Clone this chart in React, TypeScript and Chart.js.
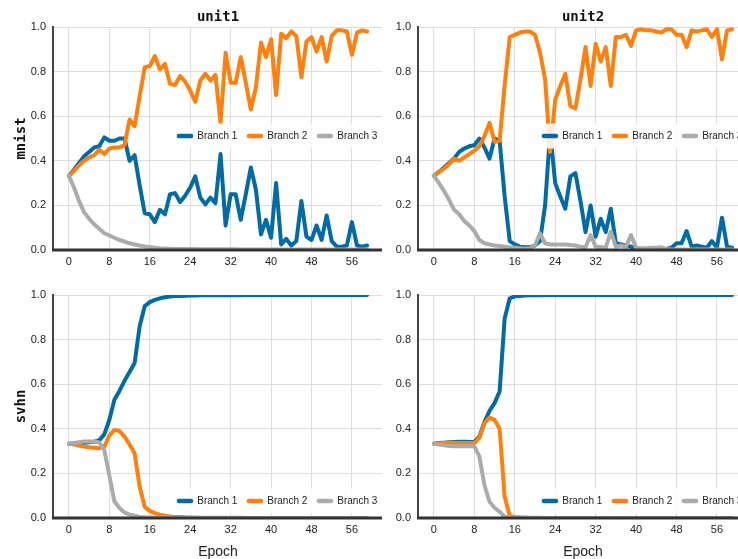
import React, { useEffect, useRef } from "react";
import { Chart, registerables } from "chart.js";

Chart.register(...registerables);

// ---------- data ----------
const epochs = [
  0, 1, 2, 3, 4, 5, 6, 7, 8, 9, 10, 11, 12, 13, 14, 15, 16, 17, 18, 19,
  20, 21, 22, 23, 24, 25, 26, 27, 28, 29, 30, 31, 32, 33, 34, 35, 36, 37, 38, 39,
  40, 41, 42, 43, 44, 45, 46, 47, 48, 49, 50, 51, 52, 53, 54, 55, 56, 57, 58, 59,
];
const xTickValues = [0, 8, 16, 24, 32, 40, 48, 56];
const yTickValues = [0, 0.2, 0.4, 0.6, 0.8, 1.0];
const seriesNames = ["Branch 1", "Branch 2", "Branch 3"];
const seriesColors = ["#006BA4", "#FF800E", "#ABABAB"];

// mnist / unit1
const mnistUnit1B1 = [
  0.333, 0.36, 0.39, 0.42, 0.44, 0.46, 0.465, 0.505, 0.49, 0.49,
  0.5, 0.5, 0.4, 0.425, 0.29, 0.165, 0.16, 0.125, 0.18, 0.16,
  0.25, 0.255, 0.215, 0.243, 0.28, 0.33, 0.235, 0.205, 0.235, 0.21,
  0.43, 0.11, 0.25, 0.25, 0.135, 0.25, 0.37, 0.27, 0.07, 0.135,
  0.055, 0.3, 0.025, 0.05, 0.02, 0.04, 0.22, 0.06, 0.045, 0.11,
  0.045, 0.155, 0.04, 0.015, 0.015, 0.02, 0.125, 0.02, 0.015, 0.02,
];
const mnistUnit1B2 = [
  0.333, 0.355, 0.38, 0.4, 0.415, 0.425, 0.45, 0.43, 0.455, 0.46,
  0.46, 0.47, 0.585, 0.555, 0.69, 0.82, 0.825, 0.87, 0.81, 0.835,
  0.745, 0.74, 0.78, 0.755, 0.715, 0.665, 0.76, 0.79, 0.76, 0.785,
  0.57, 0.885, 0.75, 0.75, 0.865, 0.75, 0.63, 0.73, 0.93, 0.865,
  0.945, 0.695, 0.97, 0.95, 0.98, 0.96, 0.775, 0.935, 0.955, 0.89,
  0.955, 0.845, 0.96, 0.985, 0.985, 0.98, 0.875, 0.975, 0.985, 0.98,
];
const mnistUnit1B3 = [
  0.333, 0.28, 0.22, 0.17, 0.14, 0.115, 0.095, 0.075, 0.065, 0.055,
  0.045, 0.038, 0.03, 0.025, 0.02, 0.016, 0.013, 0.01, 0.008, 0.007,
  0.006, 0.005, 0.005, 0.004, 0.004, 0.004, 0.003, 0.003, 0.003, 0.003,
  0.003, 0.003, 0.003, 0.003, 0.002, 0.002, 0.002, 0.002, 0.002, 0.002,
  0.002, 0.002, 0.002, 0.002, 0.002, 0.002, 0.002, 0.002, 0.002, 0.002,
  0.002, 0.002, 0.002, 0.002, 0.002, 0.002, 0.002, 0.002, 0.002, 0.002,
];

// mnist / unit2
const mnistUnit2B1 = [
  0.333, 0.35, 0.37, 0.39, 0.41, 0.44, 0.455, 0.465, 0.47, 0.5,
  0.46, 0.41, 0.5, 0.49, 0.24, 0.04, 0.025, 0.015, 0.012, 0.012,
  0.02, 0.04, 0.2, 0.53, 0.3, 0.24, 0.185, 0.33, 0.345, 0.22,
  0.08, 0.2, 0.06, 0.14, 0.08, 0.185, 0.03, 0.025, 0.02, 0.015,
  0.005, 0.004, 0.004, 0.005, 0.005, 0.005, 0.005, 0.01, 0.03, 0.03,
  0.085, 0.015, 0.02, 0.015, 0.01, 0.04, 0.01, 0.145, 0.015, 0.01,
];
const mnistUnit2B2 = [
  0.333, 0.35, 0.365, 0.385, 0.41, 0.4, 0.415, 0.43, 0.445, 0.465,
  0.51, 0.57, 0.485, 0.49, 0.74, 0.955, 0.965, 0.975, 0.98, 0.98,
  0.965, 0.885, 0.765, 0.44, 0.675, 0.735, 0.79, 0.645, 0.635, 0.765,
  0.91, 0.735, 0.925, 0.845, 0.91, 0.735, 0.955, 0.955, 0.965, 0.915,
  0.985, 0.99, 0.985, 0.985, 0.98, 0.975, 0.99, 0.99, 0.965, 0.965,
  0.91, 0.985, 0.98, 0.985, 0.99, 0.955, 0.99, 0.855, 0.985, 0.99,
];
const mnistUnit2B3 = [
  0.333, 0.3, 0.265, 0.225, 0.18, 0.16, 0.13, 0.11, 0.085, 0.045,
  0.03, 0.025, 0.02, 0.018, 0.015, 0.012, 0.01, 0.008, 0.006, 0.008,
  0.02, 0.075, 0.03, 0.025, 0.025, 0.025, 0.025, 0.022, 0.02, 0.015,
  0.012, 0.067, 0.015, 0.013, 0.01, 0.082, 0.015, 0.02, 0.015, 0.067,
  0.01, 0.008, 0.008, 0.01, 0.01, 0.012, 0.005, 0.002, 0.002, 0.002,
  0.002, 0.002, 0.002, 0.002, 0.002, 0.002, 0.002, 0.002, 0.002, 0.002,
];

// svhn / unit1
const svhnUnit1B1 = [
  0.333, 0.334, 0.335, 0.337, 0.34, 0.342, 0.348, 0.375, 0.44, 0.53,
  0.57, 0.615, 0.655, 0.695, 0.86, 0.95, 0.968, 0.978, 0.985, 0.99,
  0.993, 0.995, 0.996, 0.997, 0.998, 0.998, 0.999, 0.999, 0.999, 0.999,
  0.999, 0.999, 0.999, 0.999, 0.999, 1.0, 1.0, 1.0, 1.0, 1.0,
  1.0, 1.0, 1.0, 1.0, 1.0, 1.0, 1.0, 1.0, 1.0, 1.0,
  1.0, 1.0, 1.0, 1.0, 1.0, 1.0, 1.0, 1.0, 1.0, 1.0,
];
const svhnUnit1B2 = [
  0.333, 0.33, 0.325, 0.32, 0.317, 0.315, 0.313, 0.32, 0.37, 0.395,
  0.39, 0.365, 0.33, 0.29, 0.14, 0.05, 0.032, 0.022, 0.015, 0.01,
  0.007, 0.005, 0.004, 0.003, 0.002, 0.002, 0.001, 0.001, 0.001, 0.001,
  0.001, 0.001, 0.001, 0.001, 0.001, 0.0, 0.0, 0.0, 0.0, 0.0,
  0.0, 0.0, 0.0, 0.0, 0.0, 0.0, 0.0, 0.0, 0.0, 0.0,
  0.0, 0.0, 0.0, 0.0, 0.0, 0.0, 0.0, 0.0, 0.0, 0.0,
];
const svhnUnit1B3 = [
  0.333, 0.336, 0.34, 0.343, 0.343, 0.343, 0.339, 0.305, 0.19, 0.075,
  0.045, 0.025, 0.015, 0.01, 0.005, 0.003, 0.002, 0.002, 0.001, 0.001,
  0.001, 0.0, 0.0, 0.0, 0.0, 0.0, 0.0, 0.0, 0.0, 0.0,
  0.0, 0.0, 0.0, 0.0, 0.0, 0.0, 0.0, 0.0, 0.0, 0.0,
  0.0, 0.0, 0.0, 0.0, 0.0, 0.0, 0.0, 0.0, 0.0, 0.0,
  0.0, 0.0, 0.0, 0.0, 0.0, 0.0, 0.0, 0.0, 0.0, 0.0,
];

// svhn / unit2
const svhnUnit2B1 = [
  0.333, 0.336, 0.338, 0.34, 0.341, 0.342, 0.342, 0.341, 0.342, 0.365,
  0.43, 0.48, 0.515, 0.567, 0.895, 0.985, 0.994, 0.996, 0.998, 0.999,
  0.999, 0.999, 1.0, 1.0, 1.0, 1.0, 1.0, 1.0, 1.0, 1.0,
  1.0, 1.0, 1.0, 1.0, 1.0, 1.0, 1.0, 1.0, 1.0, 1.0,
  1.0, 1.0, 1.0, 1.0, 1.0, 1.0, 1.0, 1.0, 1.0, 1.0,
  1.0, 1.0, 1.0, 1.0, 1.0, 1.0, 1.0, 1.0, 1.0, 1.0,
];
const svhnUnit2B2 = [
  0.333, 0.335, 0.336, 0.337, 0.337, 0.336, 0.336, 0.336, 0.336, 0.36,
  0.425, 0.45, 0.44, 0.4, 0.095, 0.01, 0.005, 0.003, 0.002, 0.001,
  0.001, 0.001, 0.0, 0.0, 0.0, 0.0, 0.0, 0.0, 0.0, 0.0,
  0.0, 0.0, 0.0, 0.0, 0.0, 0.0, 0.0, 0.0, 0.0, 0.0,
  0.0, 0.0, 0.0, 0.0, 0.0, 0.0, 0.0, 0.0, 0.0, 0.0,
  0.0, 0.0, 0.0, 0.0, 0.0, 0.0, 0.0, 0.0, 0.0, 0.0,
];
const svhnUnit2B3 = [
  0.333, 0.329, 0.326, 0.323, 0.322, 0.322, 0.322, 0.323, 0.322, 0.275,
  0.148, 0.073, 0.046, 0.028, 0.006, 0.004, 0.002, 0.001, 0.0, 0.0,
  0.0, 0.0, 0.0, 0.0, 0.0, 0.0, 0.0, 0.0, 0.0, 0.0,
  0.0, 0.0, 0.0, 0.0, 0.0, 0.0, 0.0, 0.0, 0.0, 0.0,
  0.0, 0.0, 0.0, 0.0, 0.0, 0.0, 0.0, 0.0, 0.0, 0.0,
  0.0, 0.0, 0.0, 0.0, 0.0, 0.0, 0.0, 0.0, 0.0, 0.0,
];

// ---------- chart ----------
type PanelProps = {
  left: number;
  top: number;
  width: number;
  height: number;
  axisH: number;
  series: number[][];
  title?: string;
  ylabel?: string;
  xlabel?: string;
  legendDy: number;
};

const SANS = "'Liberation Sans', Arial, Helvetica, sans-serif";
const MONO = "'DejaVu Sans Mono', monospace";

function Panel(p: PanelProps) {
  const ref = useRef<HTMLCanvasElement>(null);

  useEffect(() => {
    const decor = {
      id: "decor",
      afterDatasetsDraw(chart: any) {
        const { ctx, chartArea: a } = chart;
        ctx.save();
        // axis lines
        ctx.lineCap = "butt";
        ctx.strokeStyle = "#444444";
        ctx.lineWidth = 2;
        ctx.beginPath();
        ctx.moveTo(a.left - 1, a.top - 1);
        ctx.lineTo(a.left - 1, a.bottom);
        ctx.stroke();
        ctx.strokeStyle = "#333333";
        ctx.lineWidth = 3;
        ctx.beginPath();
        ctx.moveTo(a.left - 2, a.bottom);
        ctx.lineTo(a.right, a.bottom);
        ctx.stroke();

        // legend
        const lx = a.left + 122.7;
        const ly = a.top + p.legendDy;
        ctx.fillStyle = "rgba(255,255,255,0.85)";
        ctx.fillRect(lx - 6, ly - 12.5, a.right - (lx - 6), 25);
        ctx.font = `10px ${SANS}`;
        ctx.textBaseline = "middle";
        ctx.textAlign = "left";
        seriesNames.forEach((name, i) => {
          const x0 = lx + i * 70;
          ctx.strokeStyle = seriesColors[i];
          ctx.lineWidth = 4.5;
          ctx.lineCap = "round";
          ctx.beginPath();
          ctx.moveTo(x0 + 2.2, ly);
          ctx.lineTo(x0 + 14.3, ly);
          ctx.stroke();
          ctx.fillStyle = "#222222";
          ctx.fillText(name, x0 + 20.6, ly + 0.5);
        });

        const cx = (a.left + a.right) / 2;
        if (p.title) {
          ctx.font = `bold 14px ${MONO}`;
          ctx.fillStyle = "#111111";
          ctx.textAlign = "center";
          ctx.textBaseline = "alphabetic";
          ctx.fillText(p.title, cx, a.top - 6);
        }
        if (p.ylabel) {
          ctx.save();
          ctx.translate(a.left - 29, (a.top + a.bottom) / 2);
          ctx.rotate(-Math.PI / 2);
          ctx.font = `bold 14px ${MONO}`;
          ctx.fillStyle = "#111111";
          ctx.textAlign = "center";
          ctx.textBaseline = "alphabetic";
          ctx.fillText(p.ylabel, 0, 0);
          ctx.restore();
        }
        if (p.xlabel) {
          ctx.font = `14px ${SANS}`;
          ctx.fillStyle = "#222222";
          ctx.textAlign = "center";
          ctx.textBaseline = "alphabetic";
          ctx.fillText(p.xlabel, cx, a.bottom + 38);
        }
        ctx.restore();
      },
    };

    const tickFont = { family: SANS, size: 11 };
    const chart = new Chart(ref.current as HTMLCanvasElement, {
      type: "line",
      data: {
        datasets: p.series.map((vals, i) => ({
          label: seriesNames[i],
          data: vals.map((v, j) => ({ x: epochs[j], y: v })),
          borderColor: seriesColors[i],
          backgroundColor: seriesColors[i],
          borderWidth: 4,
          pointRadius: 0,
          tension: 0,
          fill: false,
          borderJoinStyle: "round",
          borderCapStyle: "round",
          order: 3 - i,
        })),
      },
      options: {
        responsive: false,
        animation: false,
        events: [],
        layout: { padding: { top: 27, right: 18, left: 0, bottom: 0 } },
        plugins: {
          legend: { display: false },
          tooltip: { enabled: false },
          title: { display: false },
        },
        scales: {
          x: {
            type: "linear",
            min: -2.95,
            max: 61.95,
            afterBuildTicks: (s: any) => {
              s.ticks = xTickValues.map((v) => ({ value: v }));
            },
            afterFit: (s: any) => {
              s.height = p.axisH;
            },
            grid: { color: "#dddddd", lineWidth: 1, drawTicks: false },
            border: { display: false },
            ticks: {
              autoSkip: false,
              maxRotation: 0,
              padding: 5,
              color: "#222222",
              font: tickFont,
              callback: (v: any) => String(v),
            },
          },
          y: {
            type: "linear",
            min: 0,
            max: 1,
            afterBuildTicks: (s: any) => {
              s.ticks = yTickValues.map((v) => ({ value: v }));
            },
            afterFit: (s: any) => {
              s.width = 54;
            },
            grid: { color: "#dddddd", lineWidth: 1, drawTicks: false },
            border: { display: false },
            ticks: {
              padding: 8,
              color: "#222222",
              font: tickFont,
              callback: (v: any) => Number(v).toFixed(1),
            },
          },
        },
      } as any,
      plugins: [decor],
    });
    return () => chart.destroy();
  }, []);

  return (
    <canvas
      ref={ref}
      width={p.width}
      height={p.height}
      style={{ position: "absolute", left: p.left, top: p.top, width: p.width, height: p.height }}
    />
  );
}

export default function App() {
  return (
    <div
      style={{
        position: "fixed",
        left: 0,
        top: 0,
        width: 738,
        height: 559,
        overflow: "hidden",
        background: "#ffffff",
      }}
    >
      <Panel left={0} top={0} width={400} height={280} axisH={30}
        series={[mnistUnit1B1, mnistUnit1B2, mnistUnit1B3]} title="unit1" ylabel="mnist" legendDy={109} />
      <Panel left={365} top={0} width={400} height={280} axisH={30}
        series={[mnistUnit2B1, mnistUnit2B2, mnistUnit2B3]} title="unit2" legendDy={109} />
      <Panel left={0} top={268} width={400} height={291} axisH={41}
        series={[svhnUnit1B1, svhnUnit1B2, svhnUnit1B3]} ylabel="svhn" xlabel="Epoch" legendDy={206} />
      <Panel left={365} top={268} width={400} height={291} axisH={41}
        series={[svhnUnit2B1, svhnUnit2B2, svhnUnit2B3]} xlabel="Epoch" legendDy={206} />
    </div>
  );
}
